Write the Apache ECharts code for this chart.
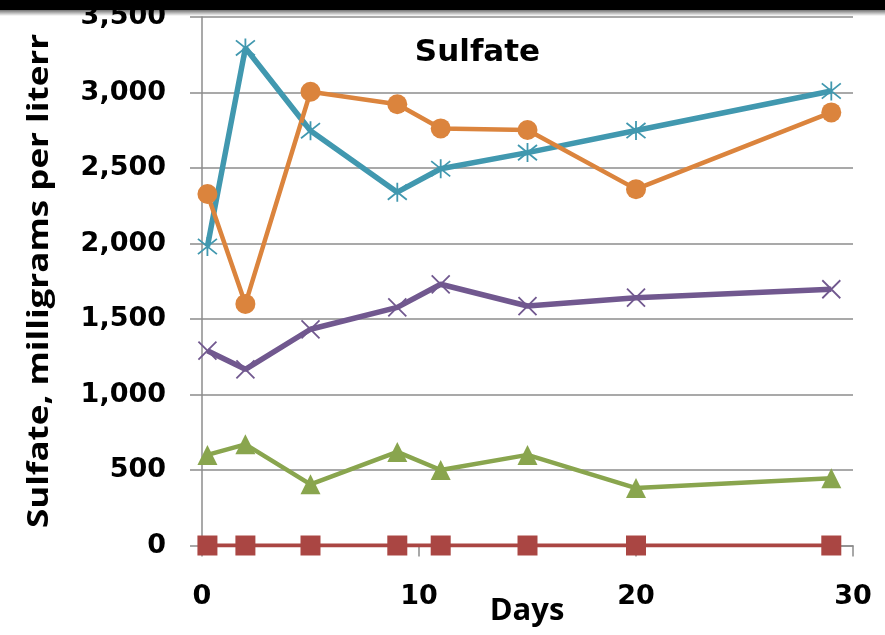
<!DOCTYPE html>
<html>
<head>
<meta charset="utf-8">
<script src="https://cdn.jsdelivr.net/npm/echarts@6/dist/echarts.min.js"></script>
<style>
  html, body { margin: 0; padding: 0; background: #ffffff; }
  #chart { width: 885px; height: 635px; }
</style>
</head>
<body>
<div id="chart"></div>
<script>
// Sampling days
const days = [0.25, 2, 5, 9, 11, 15, 20, 29];

// Sulfate concentrations, mg/L, one array per sample line
const seriesRed = [0, 0, 0, 0, 0, 0, 0, 0];
const seriesGreen = [600, 670, 405, 620, 500, 600, 380, 445];
const seriesPurple = [1290, 1167, 1432, 1577, 1730, 1586, 1641, 1697];
const seriesTeal = [1980, 3295, 2747, 2340, 2495, 2602, 2748, 3010];
const seriesOrange = [2328, 1600, 3005, 2922, 2762, 2752, 2360, 2868];

const yTicks = [0, 500, 1000, 1500, 2000, 2500, 3000, 3500];
const xTicks = [0, 10, 20, 30];

const titleText = 'Sulfate';
const yName = 'Sulfate, milligrams per literr';
const xName = 'Days';

const WIDE = '"DejaVu Sans", sans-serif';
const NARROW = '"Open Sans", sans-serif';

function pairs(vals) {
  return days.map((d, i) => [d, vals[i]]);
}

const xMark = 'path://M0,0L10,10M10,0L0,10';
const starMark = 'path://M1,1L9,9M9,1L1,9M5,0L5,10';

function lineSeries(vals, color, width, symbol, size, stroked) {
  return {
    type: 'line',
    data: pairs(vals),
    symbol: symbol,
    symbolSize: size,
    showAllSymbol: true,
    lineStyle: { color: color, width: width },
    itemStyle: stroked
      ? { color: 'none', borderColor: color, borderWidth: 1.8 }
      : { color: color, borderWidth: 0 },
    emphasis: { disabled: true },
    animation: false,
    z: 3
  };
}

const chart = echarts.init(document.getElementById('chart'), null, { renderer: 'canvas' });

chart.setOption({
  backgroundColor: '#ffffff',
  animation: false,
  grid: { left: 202, right: 32, top: 17, bottom: 89.5 },
  xAxis: {
    type: 'value',
    min: 0, max: 30, interval: 10,
    axisLine: { show: true, onZero: false, lineStyle: { color: '#8c8c8c', width: 1.5 } },
    axisTick: { show: true, length: 11, inside: false, lineStyle: { color: '#8c8c8c', width: 1.5 } },
    splitLine: { show: false },
    axisLabel: {
      margin: 38,
      fontFamily: WIDE, fontWeight: 'bold', fontSize: 27, color: '#000',
      formatter: v => xTicks.includes(v) ? String(v) : ''
    }
  },
  yAxis: {
    type: 'value',
    min: 0, max: 3500, interval: 500,
    axisLine: { show: true, lineStyle: { color: '#8c8c8c', width: 1.5 } },
    axisTick: { show: true, length: 12, inside: false, lineStyle: { color: '#8c8c8c', width: 1.5 } },
    splitLine: { show: true, lineStyle: { color: '#8c8c8c', width: 1.5 } },
    axisLabel: {
      margin: 36,
      fontFamily: WIDE, fontWeight: 'bold', fontSize: 27, color: '#000',
      formatter: v => yTicks.includes(v) ? v.toLocaleString('en-US') : ''
    }
  },
  graphic: [
    // dark band across the top edge
    { type: 'rect', left: 0, top: 0, shape: { width: 885, height: 10 }, style: { fill: '#000' }, z: 100 },
    {
      type: 'rect', left: 0, top: 10, shape: { width: 885, height: 6 },
      style: {
        fill: new echarts.graphic.LinearGradient(0, 0, 0, 1, [
          { offset: 0, color: 'rgba(0,0,0,0.55)' },
          { offset: 1, color: 'rgba(0,0,0,0)' }
        ])
      },
      z: 100
    },
    // chart title
    {
      type: 'text',
      x: 477.5, y: 53,
      style: {
        text: titleText,
        fontFamily: WIDE, fontWeight: 'bold', fontSize: 31, fill: '#000',
        align: 'center', verticalAlign: 'middle'
      }
    },
    // vertical axis name, slightly condensed across its thickness
    {
      type: 'text',
      x: 40, y: 281,
      rotation: Math.PI / 2,
      scaleX: 1, scaleY: 0.82,
      style: {
        text: yName,
        fontFamily: NARROW, fontWeight: 'bold', fontSize: 35, fill: '#000',
        align: 'center', verticalAlign: 'middle'
      }
    },
    // horizontal axis name
    {
      type: 'text',
      x: 527, y: 611,
      style: {
        text: xName,
        fontFamily: NARROW, fontWeight: 'bold', fontSize: 31, fill: '#000',
        align: 'center', verticalAlign: 'middle'
      }
    }
  ],
  series: [
    lineSeries(seriesRed, '#AA4643', 4, 'rect', 20, false),
    lineSeries(seriesGreen, '#89A54E', 4.5, 'triangle', 20, false),
    lineSeries(seriesPurple, '#71588F', 5.5, xMark, 18, true),
    lineSeries(seriesTeal, '#4198AF', 5.5, starMark, 19, true),
    lineSeries(seriesOrange, '#DB843D', 4.5, 'circle', 20, false)
  ]
});
</script>
</body>
</html>
